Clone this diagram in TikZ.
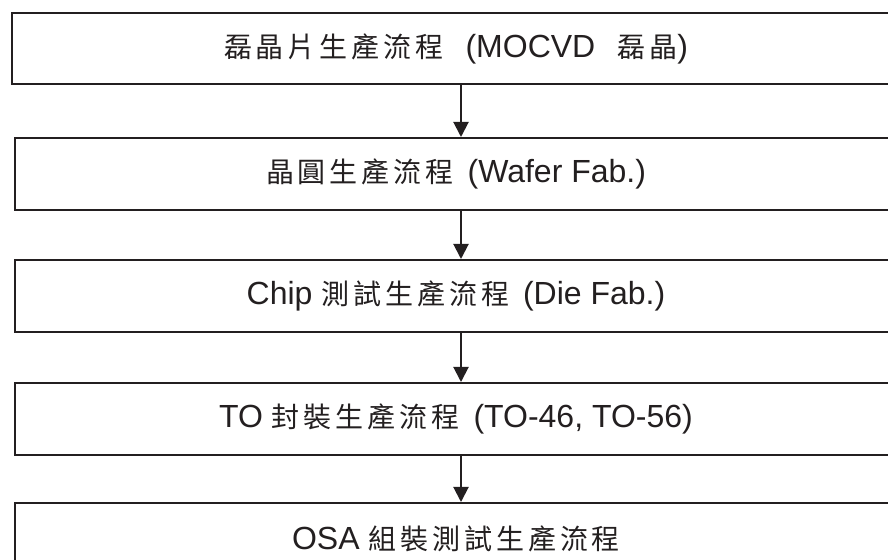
\documentclass[tikz,border=0pt]{standalone}
\usepackage{fontspec}
\setmainfont{Liberation Sans}
\newfontfamily\cjk[LetterSpace=14]{Noto Sans CJK TC}
\usetikzlibrary{positioning}
\usetikzlibrary{arrows.meta}
\usepackage{xcolor}
\definecolor{ink}{HTML}{231F20}

\newcommand{\zh}[1]{{\cjk\fontsize{14pt}{16pt}\selectfont #1}}
\newcommand{\gap}{\hspace{7pt}}

\begin{document}
\begin{tikzpicture}[x=0.5pt,y=-0.5pt]
\tikzset{
  stage/.style={draw=ink, line width=1pt, text=ink, minimum width=441pt,
    minimum height=36pt, inner sep=0pt, font=\fontsize{16pt}{19pt}\selectfont},
  flow/.style={draw=ink, line width=1pt, -{Triangle[length=7.5pt,width=7.5pt]}}
}
\useasboundingbox (0,0) rectangle (888,560);
\clip (0,0) rectangle (888,560);

% stages %
\node[stage, minimum width=444pt, minimum height=35.5pt] (epi) at (456,48.5)
{\zh{磊晶片生產流程}\hspace{11pt}(MOCVD\hspace{11pt}\zh{磊晶})};

\node[stage, below=26pt of epi] (wafer)
{\zh{晶圓生產流程}\gap(Wafer Fab.)};

\node[stage, below=24pt of wafer] (chip)
{Chip \zh{測試生產流程}\gap(Die Fab.)};

\node[stage, below=24.5pt of chip] (to)
{TO \zh{封裝生產流程}\gap(TO-46, TO-56)};

\node[stage, below=23pt of to] (osa)
{OSA \zh{組裝測試生產流程}};

% arrows, a little right of the middle %
\draw[flow] ([xshift=2.5pt]epi.south) -- ([xshift=2.5pt]wafer.north);
\draw[flow] ([xshift=2.5pt]wafer.south) -- ([xshift=2.5pt]chip.north);
\draw[flow] ([xshift=2.5pt]chip.south) -- ([xshift=2.5pt]to.north);
\draw[flow] ([xshift=2.5pt]to.south) -- ([xshift=2.5pt]osa.north);

\end{tikzpicture}
\end{document}
